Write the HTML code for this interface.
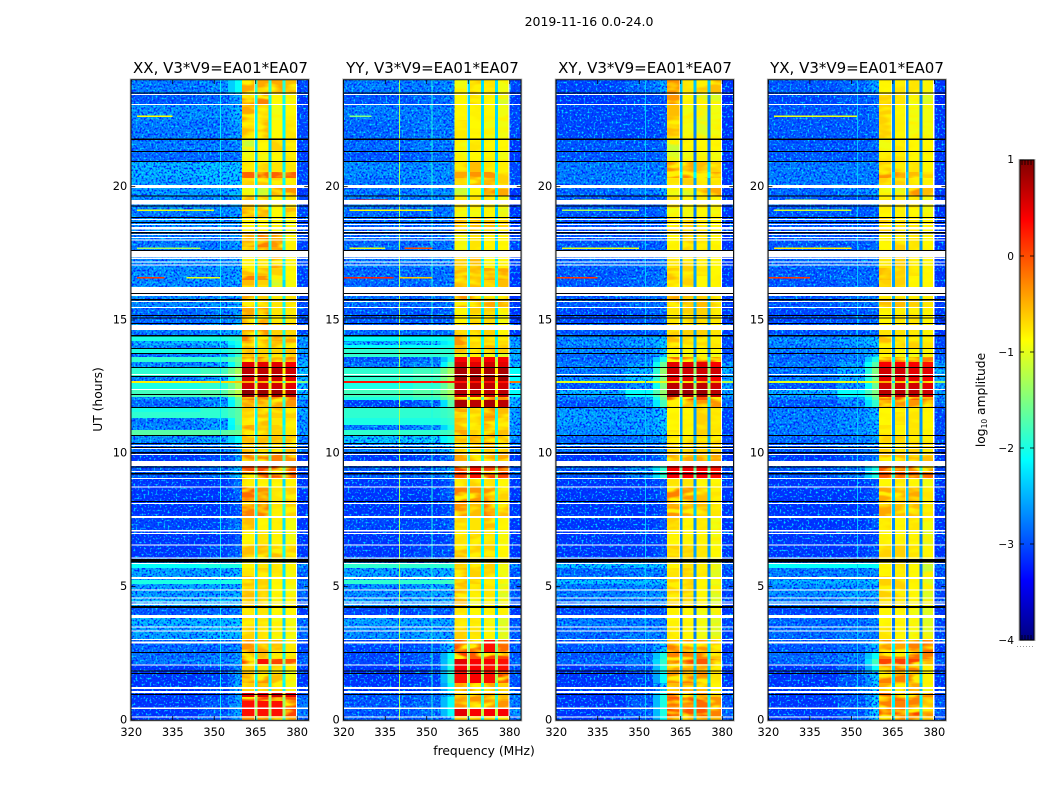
<!DOCTYPE html>
<html lang="en">
<head>
<meta charset="utf-8">
<title>2019-11-16 0.0-24.0 amplitude waterfalls</title>
<style>
html,body{margin:0;padding:0;background:#fff;}
#chart{display:block;width:1050px;height:800px;font-family:"DejaVu Sans","Liberation Sans",sans-serif;fill:#000;}
.cell{shape-rendering:crispEdges;}
</style>
</head>
<body>
<svg id="chart" xmlns="http://www.w3.org/2000/svg" width="1050" height="800" viewBox="0 0 1050 800">
  <defs>
    <filter id="speckle" x="0" y="0" width="100%" height="100%" color-interpolation-filters="sRGB">
      <feTurbulence type="fractalNoise" baseFrequency="0.5" numOctaves="1" seed="7" result="n"/>
      <feColorMatrix in="n" type="matrix" values="0 0 0 0 0  0 0 0 0 .15  0 0 0 0 1  5 0 0 0 -2.3" result="dark"/>
      <feColorMatrix in="n" type="matrix" values="0 0 0 0 0  0 0 0 0 .85  0 0 0 0 1  0 4.5 0 0 -2.4" result="light"/>
      <feMerge result="m"><feMergeNode in="dark"/><feMergeNode in="light"/></feMerge>
      <feComposite in="m" in2="SourceAlpha" operator="in"/>
    </filter>
    <filter id="blotch" x="0" y="0" width="100%" height="100%" color-interpolation-filters="sRGB">
      <feTurbulence type="fractalNoise" baseFrequency="0.045 0.14" numOctaves="2" seed="11" result="n"/>
      <feColorMatrix in="n" type="matrix" values="0 0 0 0 1  0 0 0 0 .95  0 0 0 0 0  4 0 0 0 -1.7" result="b"/>
      <feComposite in="b" in2="SourceAlpha" operator="in"/>
    </filter>
    <linearGradient id="jet-gradient" x1="0" y1="1" x2="0" y2="0"></linearGradient>
  </defs>
  <rect width="1050" height="800" fill="#fff"/>
  <text x="589" y="26" font-size="12.5" text-anchor="middle">2019-11-16 0.0-24.0</text>
  <text x="220.5" y="73" font-size="15" text-anchor="middle">XX, V3*V9=EA01*EA07</text>
  <text x="432.5" y="73" font-size="15" text-anchor="middle">YY, V3*V9=EA01*EA07</text>
  <text x="645" y="73" font-size="15" text-anchor="middle">XY, V3*V9=EA01*EA07</text>
  <text x="857" y="73" font-size="15" text-anchor="middle">YX, V3*V9=EA01*EA07</text>
  <text font-size="12.3" text-anchor="middle" transform="translate(102,399.5) rotate(-90)">UT (hours)</text>
  <text x="484" y="755" font-size="12.3" text-anchor="middle">frequency (MHz)</text>
  <text font-size="12.3" text-anchor="middle" transform="translate(985,400) rotate(-90)">log<tspan font-size="7.5" dy="2">10</tspan><tspan dy="-2"> amplitude</tspan></text>
  <g id="panels"></g>
  <g id="colorbar"></g>
</svg>
<script>
// ---- data: every value below is a reading of log10 amplitude or a UT hour / MHz from the picture ----
const polarisations = ['xx','yy','xy','yx'];
const xTicks = [320,335,350,365,380];
const xTickLabels = ['320','335','350','365','380'];
const yTicks = [0,5,10,15,20];
const yTickLabels = ['0','5','10','15','20'];
const colorbarTicks = [-4,-3,-2,-1,0,1];
const colorbarTickLabels = ['\u22124','\u22123','\u22122','\u22121','0','1'];
// frequency bin edges (MHz): low A, B, C, sub-bands S1..S4, high D
const freqStarts = [320,345,355,360,365.4,370.4,375.4,380];
const freqEnds   = [345,355,360,364.6,369.6,374.6,379.6,384];
const gapChannels = [364.7,369.7,374.7];
const gapWidth = [1];
const gapDrop = [1.6,1.6,2,2];
// UT edges of the heatmap rows (hours, descending)
const utEdges = [24,23.51,23.1,22.5,21.83,21.34,20.96,20.55,20.33,20.06,19.65,19.2,19.05,18.83,18.26,17.74,17.63,16.95,16.65,16.5,15.9,15.49,14.89,14.4,14.21,14.06,13.95,13.76,13.61,13.43,13.2,12.9,12.71,12.64,12.41,12.11,12,11.74,11.55,11.33,11.06,10.88,10.69,10.39,10.05,9.53,9.08,8.74,8.21,7.65,7.13,6.56,6.08,5.85,5.7,5.4,5.25,5.1,4.58,4.28,3.94,3.53,3.04,2.55,2.29,2.1,1.8,1.39,1.09,.86,.71,.45,.15,0];
const ampXX = [
[-2.6,-2.5,-2.1,-.3,-.3,-.3,-.4,-2.9],[-2.8,-2.7,-2.4,-.2,-.1,-.7,-.8,-3],[-2.5,-2.5,-2.3,-.3,-.5,-.8,-.7,-2.9],[-2.6,-2.6,-2.4,-.4,-.4,-.7,-.6,-2.9],
[-2.6,-2.6,-2.5,-1,-.7,-.5,-.6,-2.9],[-2.7,-2.7,-2.6,-.8,-.8,-.7,-.6,-3],[-2.3,-2.2,-2.2,-.6,-.5,-.6,-.6,-2.9],[-2.3,-2.2,-2.2,.05,0,.05,.05,-2.9],
[-2.4,-2.3,-2.2,-.5,-.4,-.5,-.6,-2.9],[-2.4,-2.4,-2.2,-.8,-1,-.2,-.2,-3],[-2.5,-2.5,-2.4,-.4,-.5,-.7,-.6,-2.9],[-2.5,-2.5,-2.4,-.3,-.3,-.7,-.4,-2.9],
[-2.6,-2.6,-2.4,-.3,-.3,-.7,-.5,-2.9],[-2.5,-2.5,-2.4,-.7,-.7,-.8,-.8,-2.9],[-2.6,-2.6,-2.4,-.3,-.1,-.2,-.7,-2.9],[-2.6,-2.6,-2.5,-.5,-.3,-.3,-.7,-2.9],
[-2.5,-2.5,-2.4,-.7,-.6,-.2,-.7,-2.9],[-2.5,-2.5,-2.4,-.4,-.4,-.5,-.7,-2.9],[-2.5,-2.5,-2.4,-.1,-.2,-1,-.7,-2.9],[-2.5,-2.5,-2.4,-.4,-.5,-1,-.8,-2.9],
[-2.5,-2.5,-2.3,-.3,-.5,-.6,-.6,-2.9],[-2.7,-2.6,-2.4,-.3,-.2,-.6,-.6,-2.9],[-2.6,-2.5,-2.3,-.3,-.2,-.5,-.5,-2.9],[-2,-2,-1.9,-.1,-.2,-.3,-.3,-2.4],
[-2.3,-2.2,-2,-.3,-.3,-.4,-.3,-2.5],[-2.5,-2.4,-2.1,-.3,-.4,-.4,-.3,-2.5],[-2,-2,-1.8,-.4,-.5,-.5,-.4,-2.4],[-2.6,-2.5,-1.9,-.4,-.5,-.5,-.5,-2.5],
[-1.9,-1.9,-1.6,-.1,-.1,-.1,-.1,-2.4],[-2.5,-2.4,-1.7,.5,.5,.5,.4,-2.3],[-1.9,-1.8,-1.3,.7,.7,.7,.6,-2.2],[-2.6,-2.4,-1.6,.6,.6,.6,.5,-2.3],
[-.8,-.7,-.6,-.3,-.3,-.3,-.3,-1.5],[-2,-1.9,-1.3,.6,.6,.6,.5,-2.2],[-1.8,-1.7,-1.2,.9,.85,.85,.75,-2.2],[-2.5,-2.4,-1.6,-.1,-.1,-.1,-.1,-2.4],
[-2.7,-2.5,-1.7,-.3,-.3,-.3,-.2,-2.5],[-2,-1.9,-1.7,-.5,-.4,-.4,-.5,-2.4],[-1.9,-1.9,-1.7,-.5,-.4,-.5,-.5,-2.4],[-2.6,-2.4,-1.7,-.6,-.4,-.6,-.6,-2.5],
[-2.5,-2.4,-1.8,-.2,-.4,-.5,-.6,-2.5],[-1.7,-1.7,-1.6,-.2,-.4,-.5,-.6,-2.4],[-2.5,-2.4,-2.1,-.4,-.4,-.4,-.4,-2.6],[-2.7,-2.6,-2.3,-.4,-.4,-.5,-.4,-2.7],
[-3,-2.9,-2.4,-.1,-.1,-.1,-.2,-3],[-2.8,-2.7,-2.2,.15,.15,.15,.1,-2.9],[-3,-3,-2.7,-.6,-.7,-.7,-.7,-3],[-3,-3,-2.7,0,-.2,-.6,-.5,-3],
[-3,-3,-2.8,-.1,-.1,-.6,-.5,-3],[-2.9,-2.9,-2.6,-.4,-.7,-.6,-.8,-3],[-3,-3,-2.8,-.7,-.6,-.7,-.8,-3],[-3,-2.9,-2.7,-.4,-.4,-.4,-.5,-3],
[-2.6,-2.5,-2.3,-.7,-.6,-.7,-.8,-2.9],[-2.1,-2,-2,-.7,-.6,-.6,-.7,-2.5],[-2.4,-2.4,-2.3,-.6,-.5,-.6,-.8,-2.7],[-2.4,-2.3,-2.2,-.4,-.5,-.7,-.8,-2.8],
[-2,-2,-2,-.4,-.5,-.7,-.8,-2.6],[-2.4,-2.4,-2.3,-.4,-.5,-.7,-.8,-2.7],[-2.3,-2.3,-2.2,-.5,-.5,-.8,-.7,-2.8],[-2.8,-2.7,-2.6,-.6,-.6,-.7,-.7,-3],
[-2.3,-2.3,-2.2,-.6,-.6,-.8,-.8,-2.7],[-2.4,-2.3,-2.3,-.5,-.6,-.8,-.8,-2.7],[-2.7,-2.7,-2.5,-.2,-.3,-.4,-.6,-2.9],[-2.7,-2.6,-2.5,-.3,-.4,-.5,-.6,-2.8],
[-2.6,-2.6,-2.3,.15,.3,.2,.1,-2.7],[-3,-2.9,-2.5,-.5,-.6,-.5,-.8,-3],[-3,-2.9,-2.4,-.3,-.2,-.4,-.8,-3],[-3,-2.9,-2.4,-.5,-.4,-.5,-.8,-3],
[-3,-2.9,-2.4,.5,.5,.6,.5,-2.8],[-3,-2.8,-2.4,.2,.2,.2,.1,-2.7],[-3,-2.8,-2.4,.3,.3,.3,.2,-2.6],[-3,-2.8,-2.4,.3,.3,.3,.2,-2.6],[-3,-2.8,-2.4,-.2,-.2,-.2,-.3,-2.7]];
const ampYY = [
[-2.6,-2.6,-2.5,-.8,-.5,-.6,-.8,-2.9],[-2.8,-2.7,-2.6,-.7,-.5,-.7,-.9,-3],[-2.6,-2.6,-2.6,-.7,-.7,-.7,-.8,-2.9],[-2.7,-2.6,-2.6,-.6,-.7,-.8,-.8,-2.9],
[-2.7,-2.6,-2.6,-.8,-.6,-.7,-.7,-3],[-2.8,-2.7,-2.7,-.8,-.7,-.7,-.8,-3],[-2.5,-2.5,-2.5,-.5,-.4,-.6,-.8,-2.9],[-2.5,-2.5,-2.5,-.3,-.2,-.2,-.5,-2.9],
[-2.6,-2.5,-2.5,-.5,-.2,-.3,-.5,-2.9],[-2.6,-2.5,-2.5,-1,-.7,-.2,-.3,-3],[-2.6,-2.6,-2.5,-.6,-.6,-.6,-.8,-3],[-2.7,-2.7,-2.6,-.8,-.8,-.7,-.9,-3],
[-2.7,-2.7,-2.6,-.8,-.8,-.7,-.9,-3],[-2.7,-2.7,-2.6,-.4,-.4,-.4,-.5,-3],[-2.7,-2.7,-2.6,-.8,-.6,-.7,-.7,-2.9],[-2.7,-2.6,-2.6,-.8,-.6,-.7,-.7,-2.9],
[-2.6,-2.6,-2.5,-.5,-.4,-.7,-.7,-2.9],[-2.7,-2.7,-2.6,-.3,-.4,-.3,-.3,-3],[-2.7,-2.7,-2.6,-.3,-.4,-.3,-.3,-3],[-2.7,-2.7,-2.6,-.4,-.4,-.5,-.4,-3],
[-2.7,-2.7,-2.6,-.2,-.2,-.3,-.3,-3],[-2.8,-2.8,-2.7,-.7,-.5,-.5,-.8,-3],[-2.7,-2.7,-2.6,-.5,-.5,-.5,-.7,-3],[-2.1,-2.1,-2,-.2,-.5,-.5,-.5,-2.4],
[-2.3,-2.2,-2.1,-.2,-.5,-.5,-.5,-2.5],[-2.1,-2.1,-2,-.4,-.5,-.4,-.5,-2.4],[-1.9,-1.9,-1.9,-.4,-.4,-.4,-.5,-2.3],[-1.9,-1.9,-1.9,-.9,-.9,-.8,-.9,-2.3],
[-2.8,-2.7,-2,.4,.3,.4,.4,-2.4],[-2.6,-2.5,-1.7,.6,.5,.6,.5,-2.3],[-1.9,-1.8,-1.3,.8,.8,.8,.8,-2.1],[-1.9,-1.8,-1.3,.85,.85,.85,.85,-2.1],
[.3,.3,.3,.3,.3,.3,.3,-.2],[-2,-1.9,-1.4,.7,.7,.7,.6,-2.2],[-1.8,-1.7,-1.3,.7,.7,.7,.7,-2.1],[-2,-1.9,-1.5,-.2,-.1,-.1,-.2,-2.3],
[-2.9,-2.7,-1.7,.8,.7,.8,.7,-2.3],[-1.9,-1.9,-1.8,-.3,-.5,-.2,-.4,-2.4],[-1.9,-1.9,-1.8,-.5,-.5,-.2,-.4,-2.4],[-2,-2,-1.9,-.4,-.5,-.3,-.5,-2.4],
[-2.6,-2.5,-2,-.4,-.6,-.4,-.5,-2.5],[-1.9,-1.9,-1.8,-.3,-.5,-.3,-.4,-2.3],[-2.2,-2.2,-2,-.4,-.3,-.2,-.4,-2.5],[-2.6,-2.5,-2.2,-.5,-.4,-.4,-.5,-2.7],
[-3,-2.9,-2.6,-.3,-.3,-.3,-.3,-3],[-2.8,-2.7,-2.3,.2,.3,.2,.2,-2.8],[-3,-3,-2.7,-.5,-.5,-.6,-.7,-3],[-3,-3,-2.7,-.1,-.2,-.2,-.5,-3],
[-3,-3,-2.8,-.2,-.4,-.1,-.4,-3],[-2.9,-2.9,-2.7,-.5,-.6,-.4,-.7,-3],[-3,-3,-2.8,-.6,-.5,-.6,-.8,-3],[-3,-2.9,-2.8,-.4,-.5,-.5,-.7,-3],
[-2.5,-2.4,-2.3,-.5,-.5,-.5,-.8,-2.8],[-1.9,-1.9,-1.9,-.5,-.5,-.5,-.8,-2.5],[-2.4,-2.4,-2.3,-.4,-.5,-.5,-.8,-2.8],[-2.3,-2.3,-2.2,-.3,-.5,-.6,-.8,-2.8],
[-1.9,-1.9,-1.8,-.3,-.5,-.6,-.8,-2.5],[-2.5,-2.4,-2.4,-.4,-.6,-.6,-.9,-2.8],[-2.4,-2.4,-2.4,-.4,-.8,-.7,-.9,-2.8],[-2.9,-2.8,-2.8,-.6,-.7,-.7,-.9,-3],
[-2.4,-2.4,-2.4,-.6,-.6,-.8,-.9,-2.8],[-2.5,-2.4,-2.4,-.5,-.6,-.7,-.9,-2.8],[-2.9,-2.8,-2.2,.1,0,.3,0,-2.8],[-2.9,-2.8,-2.1,.2,.1,.2,.2,-2.8],
[-2.9,-2.8,-2,.5,.4,.4,.3,-2.7],[-3,-2.9,-2,.4,.4,.3,.3,-2.8],[-3,-2.9,-1.9,.3,.4,.3,.2,-2.8],[-3,-2.9,-2.1,-.3,-.3,-.3,-.5,-2.9],
[-2.8,-2.7,-2.2,-.3,-.3,-.3,-.4,-2.6],[-2.8,-2.7,-2.1,-.2,-.2,-.2,-.3,-2.6],[-2.8,-2.7,-2.1,-.2,-.2,-.2,-.2,-2.6],[-2.8,-2.7,-2.1,.5,.4,.4,.4,-2.5],[-2.8,-2.7,-2.2,-.5,-.5,-.5,-.6,-2.7]];
const ampXY = [
[-2.9,-2.7,-2.4,-.2,-.6,-.4,-.4,-3],[-3,-2.9,-2.8,-.2,-.7,-1,-.9,-3.1],[-2.9,-2.9,-2.8,-.4,-.8,-.9,-.8,-3],[-2.9,-2.9,-2.8,-.4,-.8,-.9,-.8,-3],
[-2.8,-2.8,-2.7,-1,-.7,-.7,-.7,-3],[-2.8,-2.8,-2.7,-.9,-.8,-.8,-.8,-3],[-2.6,-2.6,-2.6,-.2,-.3,-.4,-.5,-3],[-2.6,-2.6,-2.6,0,0,-.2,-.3,-3],
[-2.6,-2.6,-2.6,-.6,-.5,-.6,-.6,-3],[-2.7,-2.6,-2.3,-.8,-.9,-.2,-.3,-3],[-2.8,-2.8,-2.7,-.6,-.7,-.6,-.7,-3],[-2.8,-2.8,-2.7,-.8,-.8,-.7,-.8,-3],
[-2.8,-2.8,-2.7,-.8,-.8,-.7,-.8,-3],[-2.8,-2.8,-2.7,-.5,-.5,-.6,-.7,-3],[-2.8,-2.8,-2.7,-.7,-.5,-.6,-.7,-3],[-2.8,-2.8,-2.7,-.7,-.5,-.6,-.7,-3],
[-2.7,-2.7,-2.6,-.6,-.5,-.6,-.7,-3],[-2.8,-2.7,-2.6,-.4,-.5,-.6,-.7,-3],[-2.8,-2.7,-2.6,-.4,-.5,-.7,-.7,-3],[-2.8,-2.7,-2.6,-.5,-.5,-.7,-.7,-3],
[-2.8,-2.7,-2.6,-.3,-.4,-.4,-.5,-3],[-2.9,-2.8,-2.7,-.6,-.5,-.5,-.6,-3],[-2.8,-2.8,-2.7,-.5,-.5,-.5,-.6,-3],[-2.5,-2.4,-2.2,-.4,-.5,-.5,-.6,-2.9],
[-2.5,-2.4,-2.2,-.4,-.5,-.5,-.6,-2.9],[-2.6,-2.5,-2.2,-.4,-.5,-.5,-.6,-2.9],[-2.5,-2.5,-2.2,-.7,-.7,-.7,-.7,-2.9],[-2.7,-2.6,-2.2,-.8,-.8,-.8,-.8,-2.8],
[-2.7,-2.6,-2,0,0,0,0,-2.7],[-2.6,-2.4,-1.6,.5,.5,.5,.4,-2.4],[-2.6,-2.3,-1.4,.6,.6,.6,.6,-2.3],[-2.5,-2.2,-1.5,.5,.5,.5,.4,-2.4],
[-1,-1,-1,-.3,-.3,-.3,-.3,-1.2],[-2.8,-2.5,-1.5,.7,.7,.7,.6,-2.4],[-2.3,-2.1,-1.4,.9,.85,.85,.7,-2.4],[-2.6,-2.4,-1.6,.1,.1,.1,.1,-2.5],
[-2.8,-2.5,-1.8,-.2,-.2,-.2,-.2,-2.7],[-2.4,-2.4,-2.2,-.7,-.7,-.5,-.6,-2.9],[-2.4,-2.4,-2.2,-.7,-.7,-.5,-.6,-2.9],[-2.4,-2.4,-2.2,-.7,-.7,-.5,-.6,-2.9],
[-2.5,-2.4,-2.2,-.7,-.7,-.5,-.6,-2.9],[-2.5,-2.4,-2.2,-.6,-.7,-.5,-.6,-2.9],[-2.7,-2.6,-2.4,-.5,-.5,-.5,-.5,-2.9],[-2.7,-2.7,-2.5,-.5,-.5,-.5,-.5,-3],
[-3,-2.9,-2.6,-.3,-.3,-.3,-.3,-3],[-2.8,-2.5,-1.9,.4,.4,.4,.3,-2.9],[-3,-3,-2.8,-.6,-.6,-.7,-.7,-3],[-3,-3,-2.8,-.1,-.2,-.4,-.6,-3],
[-3,-3,-2.9,-.2,-.3,-.4,-.6,-3],[-3,-3,-2.8,-.5,-.7,-.6,-.8,-3],[-3,-3,-2.9,-.7,-.7,-.7,-.8,-3],[-3,-3,-2.8,-.5,-.5,-.6,-.7,-3],
[-2.7,-2.7,-2.6,-.7,-.6,-.7,-.9,-3],[-2.2,-2.2,-2.2,-.7,-.6,-.7,-.9,-2.7],[-2.7,-2.6,-2.6,-.6,-.5,-.6,-.9,-2.9],[-2.6,-2.6,-2.6,-.6,-.5,-.7,-.9,-2.9],
[-2.2,-2.2,-2.2,-.5,-.5,-.7,-.8,-2.7],[-2.6,-2.5,-2.5,-.5,-.5,-.7,-.9,-2.9],[-2.6,-2.6,-2.5,-.5,-.5,-.7,-.9,-2.9],[-2.9,-2.9,-2.8,-.7,-.7,-.8,-.9,-3],
[-2.6,-2.6,-2.6,-.7,-.7,-.8,-.9,-2.9],[-2.7,-2.6,-2.6,-.6,-.7,-.8,-.9,-2.9],[-2.8,-2.7,-2.2,-.1,-.2,-.2,-.4,-3],[-2.8,-2.7,-2,-.1,-.1,-.1,-.4,-2.9],
[-2.7,-2.6,-1.9,.2,.2,.1,-.1,-2.9],[-3,-2.8,-2,-.3,-.3,-.3,-.5,-3],[-3,-2.9,-2.1,-.2,-.1,-.2,-.6,-3],[-3,-2.9,-2.2,-.4,-.3,-.4,-.7,-3],
[-3,-2.8,-2,-.1,-.1,-.1,-.4,-2.8],[-3,-2.8,-2,.1,.1,.1,-.2,-2.8],[-3,-2.8,-2,0,0,0,-.2,-2.8],[-3,-2.8,-2,.2,.1,.1,-.1,-2.7],[-3,-2.8,-2.1,-.3,-.3,-.3,-.4,-2.8]];
const ampYX = [
[-2.8,-2.7,-2.4,-.7,-.6,-.6,-.8,-3],[-2.9,-2.8,-2.7,-.5,-.6,-.8,-.9,-3.1],[-2.8,-2.8,-2.7,-.5,-.7,-.8,-.8,-3],[-2.8,-2.8,-2.7,-.5,-.7,-.8,-.8,-3],
[-2.8,-2.8,-2.7,-.8,-.6,-.7,-.7,-3],[-2.8,-2.8,-2.7,-.6,-.6,-.7,-.7,-3],[-2.6,-2.6,-2.6,-.5,-.5,-.6,-.7,-3],[-2.6,-2.6,-2.6,-.2,-.2,-.4,-.5,-3],
[-2.6,-2.6,-2.6,-.5,-.5,-.6,-.7,-3],[-2.7,-2.6,-2.4,-.8,-.9,-.2,-.4,-3],[-2.8,-2.8,-2.7,-.6,-.6,-.6,-.8,-3],[-2.8,-2.8,-2.7,-.7,-.7,-.7,-.8,-3],
[-2.8,-2.8,-2.7,-.7,-.7,-.7,-.8,-3],[-2.8,-2.8,-2.7,-.5,-.5,-.6,-.7,-3],[-2.8,-2.8,-2.7,-.7,-.5,-.6,-.7,-3],[-2.8,-2.8,-2.7,-.7,-.5,-.6,-.7,-3],
[-2.7,-2.7,-2.6,-.6,-.5,-.6,-.7,-3],[-2.8,-2.7,-2.7,-.4,-.5,-.6,-.7,-3],[-2.8,-2.7,-2.7,-.4,-.5,-.7,-.7,-3],[-2.8,-2.7,-2.7,-.5,-.5,-.7,-.7,-3],
[-2.8,-2.7,-2.6,-.4,-.4,-.5,-.6,-3],[-2.9,-2.8,-2.7,-.7,-.6,-.6,-.7,-3],[-2.8,-2.8,-2.7,-.6,-.6,-.6,-.7,-3],[-2.5,-2.4,-2.2,-.4,-.5,-.5,-.6,-2.9],
[-2.5,-2.4,-2.2,-.4,-.5,-.5,-.6,-2.9],[-2.6,-2.5,-2.3,-.4,-.5,-.5,-.6,-2.9],[-2.6,-2.5,-2.3,-.6,-.7,-.7,-.7,-2.9],[-2.7,-2.6,-2.2,-.7,-.8,-.8,-.8,-2.8],
[-2.7,-2.6,-2,-.1,-.1,-.1,-.1,-2.7],[-2.6,-2.4,-1.7,.4,.4,.4,.3,-2.4],[-2.6,-2.3,-1.5,.6,.6,.5,.5,-2.3],[-2.6,-2.3,-1.6,.5,.5,.5,.4,-2.4],
[-1,-1,-1,-.3,-.3,-.3,-.3,-1.4],[-2.8,-2.5,-1.6,.6,.6,.6,.5,-2.4],[-2.3,-2.1,-1.5,.7,.7,.7,.6,-2.4],[-2.6,-2.4,-1.7,.1,.1,.1,.1,-2.5],
[-2.8,-2.5,-1.9,-.2,-.2,-.2,-.2,-2.7],[-2.6,-2.5,-2.3,-.7,-.7,-.6,-.7,-2.9],[-2.6,-2.5,-2.3,-.7,-.6,-.6,-.7,-2.9],[-2.6,-2.5,-2.3,-.7,-.6,-.6,-.7,-2.9],
[-2.6,-2.5,-2.3,-.6,-.7,-.6,-.7,-2.9],[-2.6,-2.5,-2.3,-.5,-.7,-.6,-.7,-2.9],[-2.7,-2.6,-2.4,-.5,-.5,-.5,-.6,-2.9],[-2.8,-2.7,-2.5,-.5,-.5,-.5,-.6,-3],
[-3,-2.9,-2.6,-.4,-.4,-.4,-.4,-3],[-2.8,-2.6,-2,.1,.1,.1,0,-2.9],[-3,-3,-2.8,-.7,-.6,-.7,-.8,-3],[-3,-3,-2.8,-.3,-.3,-.3,-.6,-3],
[-3,-3,-2.9,-.3,-.4,-.4,-.6,-3],[-3,-3,-2.8,-.6,-.7,-.6,-.8,-3],[-3,-3,-2.9,-.7,-.7,-.7,-.9,-3],[-3,-3,-2.8,-.5,-.5,-.6,-.7,-3],
[-2.6,-2.6,-2.5,-.7,-.6,-.7,-1,-2.9],[-2.1,-2.1,-2.1,-.7,-.6,-.7,-1,-2.6],[-2.6,-2.6,-2.5,-.7,-.6,-.7,-1,-2.9],[-2.5,-2.5,-2.5,-.5,-.5,-.7,-.9,-2.9],
[-2.3,-2.3,-2.2,-.5,-.5,-.7,-.9,-2.7],[-2.5,-2.4,-2.4,-.5,-.5,-.7,-.9,-2.9],[-2.6,-2.5,-2.5,-.6,-.6,-.7,-.9,-2.9],[-2.9,-2.9,-2.8,-.7,-.7,-.8,-.9,-3],
[-2.7,-2.7,-2.6,-.7,-.7,-.8,-.9,-2.9],[-2.7,-2.6,-2.6,-.6,-.7,-.8,-.9,-2.9],[-2.8,-2.7,-2.3,-.2,-.3,-.1,0,-3],[-2.7,-2.6,-2.1,-.1,-.1,0,-.1,-2.9],
[-2.7,-2.6,-1.8,.2,.2,.2,-.3,-2.8],[-3,-2.8,-2.1,-.2,-.1,-.1,-.7,-3],[-3,-2.8,-2.2,-.1,-.1,-.1,-.7,-3],[-3,-2.8,-2.2,-.3,-.2,-.3,-.8,-3],
[-3,-2.8,-2.2,.1,0,.1,-.2,-2.9],[-3,-2.8,-2.2,-.1,0,-.1,-.4,-2.8],[-3,-2.8,-2.2,-.1,-.1,-.1,-.4,-2.8],[-3,-2.8,-2.2,.1,.1,.2,-.2,-2.8],[-3,-2.8,-2.2,-.3,-.2,-.2,-.4,-2.8]];
const amplitudeByPanel = [ampXX, ampYY, ampXY, ampYX];
// flagged integrations (white, hours: start, end)
const flaggedStart = [23.475,23.1,20.06,19.5,18.79,18.6,18.49,18.34,18.23,18.11,18.02,17.58,17.33,17.2,17.08,16.24,15.71,15.49,14.89,14.81,14.66,12.97,12.41,10.31,10.2,9.98,9.71,9.34,9.08,8.76,8.14,7.65,7.13,7.01,6.58,6.09,5.89,5.36,4.9,4.6,4.44,4.36,3.94,3.51,3.36,3.03,2.94,2.08,1.24,1.09,.46,.13];
const flaggedEnd   = [23.44,23.06,19.95,19.34,18.75,18.56,18.4,18.32,18.19,18.08,17.98,17.34,17.29,17.16,17.04,15.9,15.68,15.45,14.87,14.66,14.62,12.93,12.38,10.27,10.17,9.94,9.53,9.3,9.04,8.72,8.1,7.58,7.06,6.98,6.54,6.06,5.85,5.29,4.86,4.56,4.42,4.32,3.83,3.47,3.32,3,2.87,2.04,1.16,1.01,.42,.09];
// blank integrations (black, hours: start, end)
const blankStart = [23.53,21.81,21.34,20.96,19.67,19.29,18.86,18.68,18.3,17.63,16.01,15.79,15.19,15.09,14.89,14.44,13.95,13.76,13.24,12.9,12.23,11.74,10.69,10.39,10.24,10.05,9.51,9.26,8.21,6.04,4.28,2.55,1.86,1.76,.98];
const blankEnd   = [23.49,21.75,21.3,20.92,19.63,19.25,18.83,18.64,18.24,17.59,15.98,15.73,15.15,15.05,14.85,14.38,13.91,13.72,13.2,12.86,12.19,11.7,10.65,10.35,10.2,9.99,9.47,9.2,8.17,5.91,4.2,2.51,1.82,1.72,.94];
// narrow RFI tracks: panel index, UT hour, start MHz, end MHz, log amplitude
const rfiPanel = [0,0,0,0,0,1,1,1,1,1,1,1,1,2,2,2,2,3,3,3,3,3];
const rfiHour  = [22.65,19.11,17.7,16.58,16.58,22.65,19.5,19.11,17.7,17.7,16.58,16.58,12.68,19.5,19.11,17.7,16.58,22.65,19.5,19.11,17.7,16.58];
const rfiStart = [322,322,322,322,340,322,322,322,322,342,320,340,320,326,322,322,320,322,326,322,322,320];
const rfiEnd   = [335,350,345,332,352,330,336,352,335,352,338,352,352,338,350,350,335,352,338,350,350,335];
const rfiLevel = [-.9,-1,-1.3,.1,-1,-1.5,.3,-.9,-1,0,.2,-.6,.3,-1,-1.3,-1,.1,-1,-1.2,-1.1,-.8,.1];
// narrow vertical RFI channels: panel index, MHz, log amplitude
const channelPanel = [0,1,1,2,3];
const channelMHz   = [352,339.9,351.8,352,352];
const channelLevel = [-2.2,-1.3,-2,-2.4,-2.4];
// display thresholds and offsets (log amplitude)
const quietBandBias = [-0.15];
const quietBandLimit = [0.3];
const speckleLimit = [-2.15];
const faintBias = [-0.12];
const shoulderSplitMHz = [357.5];

// ---- axis functions ----
const SVGNS = 'http://www.w3.org/2000/svg';
const panelLeft = [131.25,343.75,556.25,768.4];
const panelWidth = 177;
const plotTop = 80, plotBottom = 720;
function xOf(p, mhz){ return panelLeft[p] + (mhz-320)*panelWidth/64; }
function yOf(h){ return plotTop + (24-h)*(plotBottom-plotTop)/24; }
function cbY(v){ return 640 - (v+4)*96; }
function clamp(v){ return Math.max(0, Math.min(1, v)); }
function jet(logAmp){
  const v = clamp((logAmp+4)/5);
  const r = clamp(1.5-Math.abs(4*v-3)), g = clamp(1.5-Math.abs(4*v-2)), b = clamp(1.5-Math.abs(4*v-1));
  return 'rgb('+Math.round(r*255)+','+Math.round(g*255)+','+Math.round(b*255)+')';
}
function isBandColumn(c){ return c >= 3 && c <= 6; }
function displayLevel(val, c){
  if (isBandColumn(c)) return val < quietBandLimit[0] ? val + quietBandBias[0] : val;
  return val < speckleLimit[0] ? val + faintBias[0] : val;
}
function make(tag, attrs, parent){
  const el = document.createElementNS(SVGNS, tag);
  for (const k in attrs) el.setAttribute(k, attrs[k]);
  parent.appendChild(el);
  return el;
}
const panelsRoot = document.getElementById('panels');

polarisations.forEach(function(pol, p){
  const g = make('g', {}, panelsRoot);
  
  
  const rows = amplitudeByPanel[p];

  // heatmap cells
  rows.forEach(function(row, r){
    const y0 = yOf(utEdges[r]), y1 = yOf(utEdges[r+1]);
    row.forEach(function(val, c){
      const x0 = xOf(p, freqStarts[c]), x1 = xOf(p, freqEnds[c]);
      const cell = make('rect', {x:x0, y:y0, width:x1-x0, height:y1-y0, fill:jet(displayLevel(val, c)), 'class':'cell'}, g);
      
      
    });
    // the band shoulder ramps up instead of stepping: its left half sits between its neighbours
    const sx0 = xOf(p, freqStarts[2]), sx1 = xOf(p, shoulderSplitMHz[0]);
    const ramp = make('rect', {x:sx0, y:y0, width:sx1-sx0, height:y1-y0, fill:jet((displayLevel(row[1],1)+displayLevel(row[2],2))/2), 'class':'cell'}, g);
    
    
  });

  // receiver noise texture only on the faint cells; passband mottling only on the quiet band cells
  const noiseGroup = make('g', {filter:'url(#speckle)'}, g);
  
  
  const bandGroup = make('g', {filter:'url(#blotch)'}, g);
  
  
  rows.forEach(function(row, r){
    const y0 = yOf(utEdges[r]), y1 = yOf(utEdges[r+1]);
    row.forEach(function(val, c){
      const x0 = xOf(p, freqStarts[c]), x1 = xOf(p, freqEnds[c]);
      if (!isBandColumn(c) && val < speckleLimit[0]) {
        make('rect', {x:x0, y:y0, width:x1-x0, height:y1-y0, fill:'#000', 'class':'cell'}, noiseGroup);
      }
      if (isBandColumn(c) && val < quietBandLimit[0]) {
        make('rect', {x:x0, y:y0, width:x1-x0, height:y1-y0, fill:'#000', 'class':'cell'}, bandGroup);
      }
    });
  });

  // sub-band gaps
  rows.forEach(function(row, r){
    const y0 = yOf(utEdges[r]), y1 = yOf(utEdges[r+1]);
    const bandMean = (row[3]+row[4]+row[5]+row[6])/4;
    gapChannels.forEach(function(mhz){
      const gx = xOf(p, mhz);
      const gap = make('rect', {x:gx, y:y0, width:gapWidth[0]*panelWidth/64, height:y1-y0, fill:jet(bandMean-gapDrop[p]), 'class':'cell'}, g);
      
      
    });
  });

  // narrow channels
  channelPanel.forEach(function(cp, i){
    if (cp !== p) return;
    const line = make('rect', {x:xOf(p,channelMHz[i]), y:plotTop, width:1, height:plotBottom-plotTop, fill:jet(channelLevel[i]), 'class':'cell'}, g);
    
    
  });
  // rfi tracks
  rfiPanel.forEach(function(rp, i){
    if (rp !== p) return;
    const tr = make('rect', {x:xOf(p,rfiStart[i]), y:yOf(rfiHour[i])-.75, width:xOf(p,rfiEnd[i])-xOf(p,rfiStart[i]), height:1.5, fill:jet(rfiLevel[i]), 'class':'cell'}, g);
    
    
  });

  // flagged and blank integrations
  flaggedStart.forEach(function(h, i){
    const y0 = yOf(h), y1 = yOf(flaggedEnd[i]);
    const f = make('rect', {x:panelLeft[p], y:y0, width:panelWidth, height:Math.max(1,y1-y0), fill:'#fff', 'class':'cell'}, g);
    
    
  });
  blankStart.forEach(function(h, i){
    const y0 = yOf(h), y1 = yOf(blankEnd[i]);
    const b = make('rect', {x:panelLeft[p], y:y0, width:panelWidth, height:Math.max(1,y1-y0), fill:'#000', 'class':'cell'}, g);
    
    
  });

  // frame
  const frameOuter = make('rect', {x:panelLeft[p]-1, y:plotTop-1, width:panelWidth+2, height:plotBottom-plotTop+2, fill:'none', stroke:'#b5b5b5', 'stroke-width':1}, g);
  
  
  const frame = make('rect', {x:panelLeft[p]-.25, y:plotTop-.25, width:panelWidth+.5, height:plotBottom-plotTop+.5, fill:'none', stroke:'#111', 'stroke-width':1}, g);
  
  

  // x ticks
  xTicks.forEach(function(t, i){
    const x = xOf(p, t);
    const a = make('line', {x1:x, x2:x, y1:plotBottom, y2:plotBottom-4, stroke:'#000', 'stroke-width':.8}, g);
    
    
    const b = make('line', {x1:x, x2:x, y1:plotTop, y2:plotTop+4, stroke:'#000', 'stroke-width':.8}, g);
    
    
    const lab = make('text', {x:x, y:736, 'font-size':11.4, 'text-anchor':'middle'}, g);
    
    
    lab.textContent = xTickLabels[i];
  });
  // y ticks
  yTicks.forEach(function(t, i){
    const y = yOf(t);
    const a = make('line', {x1:panelLeft[p], x2:panelLeft[p]+4, y1:y, y2:y, stroke:'#000', 'stroke-width':.8}, g);
    
    
    const b = make('line', {x1:panelLeft[p]+panelWidth, x2:panelLeft[p]+panelWidth-4, y1:y, y2:y, stroke:'#000', 'stroke-width':.8}, g);
    
    
    const lab = make('text', {x:panelLeft[p]-4, y:y+3.4, 'font-size':11.4, 'text-anchor':'end'}, g);
    
    
    lab.textContent = yTickLabels[i];
  });
});

// ---- colorbar ----
const grad = document.getElementById('jet-gradient');
for (let v = -4; v <= 1.001; v += 0.125) {
  make('stop', {offset:((v+4)/5*100)+'%', 'stop-color':jet(v)}, grad);
}
const cbRoot = document.getElementById('colorbar');
const cbBar = make('rect', {x:1019.5, y:160, width:15, height:480, fill:'url(#jet-gradient)'}, cbRoot);


const cbHalo = make('rect', {x:1019, y:159.5, width:16, height:481, fill:'none', stroke:'#b5b5b5', 'stroke-width':1}, cbRoot);


const cbFrame = make('rect', {x:1020, y:160, width:14, height:480, fill:'none', stroke:'#000', 'stroke-width':.9}, cbRoot);


colorbarTicks.forEach(function(t, i){
  const y = cbY(t);
  const a = make('line', {x1:1020, x2:1024, y1:y, y2:y, stroke:'#000', 'stroke-width':.8}, cbRoot);
  
  
  const b = make('line', {x1:1034, x2:1030, y1:y, y2:y, stroke:'#000', 'stroke-width':.8}, cbRoot);
  
  
  const lab = make('text', {x:1014, y:y+(t===1?3:4), 'font-size':10.6, 'text-anchor':'end'}, cbRoot);
  
  
  lab.textContent = colorbarTickLabels[i];
});
[1022,1025,1028,1031].forEach(function(x){
  const top = make('line', {x1:x, x2:x, y1:160, y2:165, stroke:'#000', 'stroke-width':.8}, cbRoot);
  
  
  const bot = make('line', {x1:x, x2:x, y1:640, y2:635, stroke:'#000', 'stroke-width':.8}, cbRoot);
  
  
});
const cbDots = make('line', {x1:1017, x2:1035, y1:646.5, y2:646.5, stroke:'#999', 'stroke-width':1, 'stroke-dasharray':'1 2'}, cbRoot);


</script>
</body>
</html>
